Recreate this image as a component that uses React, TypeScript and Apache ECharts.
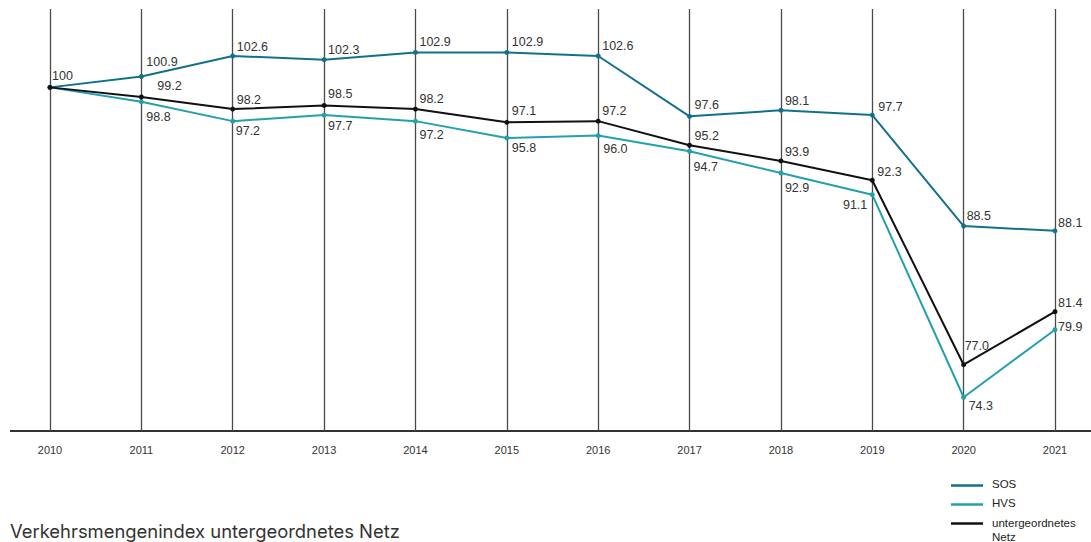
import React, { useEffect, useRef } from "react";
import * as echarts from "echarts";

const years = ["2010", "2011", "2012", "2013", "2014", "2015", "2016", "2017", "2018", "2019", "2020", "2021"];
const sosValues = [100, 100.9, 102.6, 102.3, 102.9, 102.9, 102.6, 97.6, 98.1, 97.7, 88.5, 88.1];
const hvsValues = [100, 98.8, 97.2, 97.7, 97.2, 95.8, 96.0, 94.7, 92.9, 91.1, 74.3, 79.9];
const netzValues = [100, 99.2, 98.2, 98.5, 98.2, 97.1, 97.2, 95.2, 93.9, 92.3, 77.0, 81.4];
const seriesNames = ["SOS", "HVS", "untergeordnetes Netz"];
const title = "Verkehrsmengenindex untergeordnetes Netz";

// label placement (style only)
type Off = [number, number, string?] | null;
const sosOffsets: Off[] = [null, [5, -15], [4, -9], [4, -10], [4, -10], [5, -10], [4, -10], [5, -11], [4, -9], [6, -8], [3, -10], [3, -8]];
const hvsOffsets: Off[] = [null, [5, 15], [3, 10], [4, 11], [4, 14], [5, 10], [5, 13], [4, 16], [4, 15], [-5, 10, "right"], [5, 9], [3, -3]];
const netzOffsets: Off[] = [[2, -11], [16, -11], [4, -9], [4, -11], [4, -10], [5, -11], [4, -10], [5, -9], [4, -9], [5, -8], [1, -19], [3, -9]];

const COLORS = ["#13718b", "#22a1ac", "#111111"];
const FONT = "Liberation Sans, Arial, sans-serif";
const TITLE_FONT = "Inter, Liberation Sans, sans-serif";

function fmt(v: number) {
  return v === 100 ? "100" : v.toFixed(1);
}

function buildData(values: number[], offsets: Off[]) {
  return values.map((v, i) => {
    const o = offsets[i];
    if (!o) return { value: v, label: { show: false } };
    return {
      value: v,
      label: {
        show: true,
        position: "inside",
        align: o[2] || "left",
        verticalAlign: "middle",
        offset: [o[0], o[1]],
      },
    };
  });
}

export default function App() {
  const ref = useRef<HTMLDivElement>(null);
  useEffect(() => {
    document.body.style.margin = "0";
    const chart = echarts.init(ref.current!, null, { renderer: "svg" });
    const allValues = [sosValues, hvsValues, netzValues];
    const allOffsets = [sosOffsets, hvsOffsets, netzOffsets];
    const legendTop = [485.5, 504.5, 523.5];
    const legendGraphics: any[] = [];
    seriesNames.forEach((n, i) => {
      legendGraphics.push({
        type: "line",
        shape: { x1: 951, y1: legendTop[i], x2: 983, y2: legendTop[i] },
        style: { stroke: COLORS[i], lineWidth: 2.5 },
      });
      legendGraphics.push({
        type: "text",
        x: 992,
        y: i === 2 ? legendTop[i] - 8 : legendTop[i] - 1.5,
        style: {
          text: i === 2 ? "untergeordnetes\nNetz" : n,
          font: `11.5px ${FONT}`,
          fill: "#222",
          verticalAlign: i === 2 ? "top" : "middle",
          lineHeight: 14,
        },
      });
    });
    chart.setOption({
      animation: false,
      grid: { left: 50, right: 36, top: 9, height: 422 },
      xAxis: {
        type: "category",
        data: years,
        boundaryGap: false,
        axisLine: { show: false },
        axisTick: { show: false },
        axisLabel: { color: "#333", fontSize: 11, fontFamily: FONT, margin: 13 },
        splitLine: { show: true, lineStyle: { color: "#4a4a4a", width: 1.3 } },
      },
      yAxis: { type: "value", min: 71.5, max: 106.5, show: false, splitLine: { show: false } },
      series: allValues.map((vals, i) => ({
        name: seriesNames[i],
        type: "line",
        data: buildData(vals, allOffsets[i]),
        symbol: "circle",
        symbolSize: 5,
        lineStyle: { color: COLORS[i], width: 2 },
        itemStyle: { color: COLORS[i] },
        label: {
          color: "#333",
          fontSize: 12.5,
          fontFamily: FONT,
          formatter: (p: any) => fmt(p.value),
        },
        z: 3 + i,
      })),
      graphic: [
        {
          type: "line",
          shape: { x1: 10, y1: 431, x2: 1091, y2: 431 },
          style: { stroke: "#333", lineWidth: 2 },
        },
        {
          type: "text",
          x: 10,
          y: 531,
          style: { text: title, font: `18.4px ${TITLE_FONT}`, fill: "#333", verticalAlign: "middle" },
        },
        ...legendGraphics,
      ],
    });
    return () => chart.dispose();
  }, []);
  return <div ref={ref} style={{ width: 1091, height: 542, position: "absolute", left: 0, top: 0 }} />;
}
